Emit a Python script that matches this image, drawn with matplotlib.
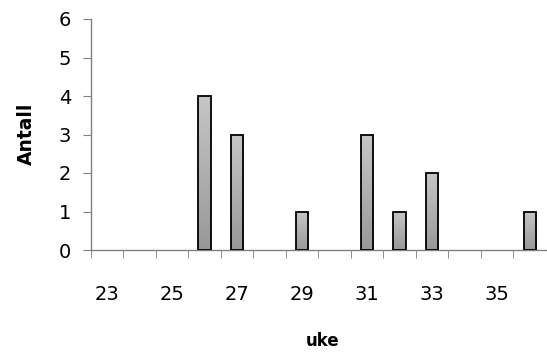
import numpy as np
import matplotlib.pyplot as plt
from matplotlib.colors import LinearSegmentedColormap

# weekly counts
uker = [23, 24, 25, 26, 27, 28, 29, 30, 31, 32, 33, 34, 35, 36]
antall = [0, 0, 0, 4, 3, 0, 1, 0, 3, 1, 2, 0, 0, 1]

fig = plt.figure(figsize=(5.47, 3.52), dpi=100)
ax = fig.add_axes([90.7/547, 102/352, 455.3/547, 231/352])

x = np.arange(len(uker))
vals = np.array(antall)
nz = vals > 0
bars = ax.bar(x[nz], vals[nz], width=0.38, facecolor='none',
              edgecolor='black', linewidth=1.3, zorder=3)

# grey gradient fill for each bar, light at the top
grad = LinearSegmentedColormap.from_list('g', ['#989898', '#c6c6c6'])
ramp = np.linspace(0, 1, 256).reshape(-1, 1)
for b in bars:
    x0 = b.get_x()
    im = ax.imshow(ramp, cmap=grad, origin='lower', aspect='auto',
                   extent=[x0, x0 + b.get_width(), 0, b.get_height()],
                   zorder=2)
    im.set_clip_path(b)

ax.set_xlim(-0.5, len(uker) - 0.5)
ax.set_ylim(0, 6)

ax.spines['top'].set_visible(False)
ax.spines['right'].set_visible(False)
for s in ('left', 'bottom'):
    ax.spines[s].set_color('#808080')
    ax.spines[s].set_linewidth(1.0)

ax.set_yticks(range(0, 7))
ax.tick_params(axis='y', direction='out', length=6, color='#808080',
               labelsize=14, pad=8)

# labels every second week, tick marks on category boundaries
ax.set_xticks(x[::2])
ax.set_xticklabels([str(u) for u in uker[::2]])
ax.set_xticks(x - 0.5, minor=True)
ax.tick_params(axis='x', which='major', length=0, labelsize=14, pad=25)
ax.tick_params(axis='x', which='minor', direction='out', length=6,
               color='#808080')

ax.set_ylabel('Antall', fontsize=13.5, fontweight='bold', va='center')
ax.yaxis.set_label_coords(-(90.7 - 26) / 455.3, (250 - 134) / 231)
ax.set_xlabel('uke', fontsize=12, fontweight='bold', va='center')
ax.xaxis.set_label_coords((323 - 90.7) / 455.3, -(341 - 250) / 231)

fig.savefig('out.png', dpi=100)
